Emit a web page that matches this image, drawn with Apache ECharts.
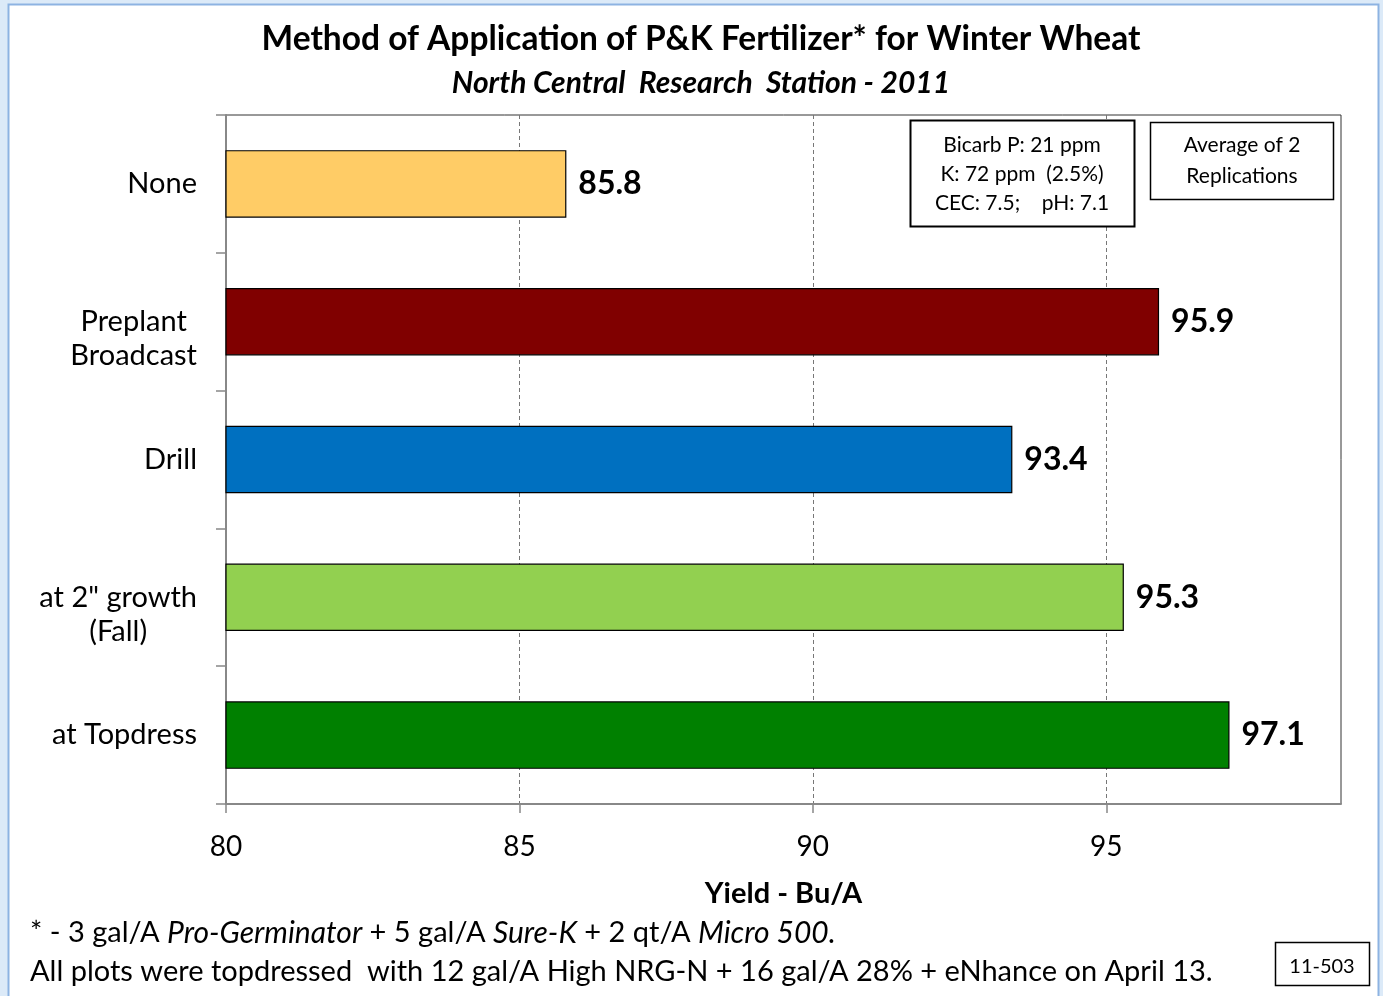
<!DOCTYPE html>
<html><head><meta charset="utf-8">
<script src="https://cdn.jsdelivr.net/npm/echarts@6/dist/echarts.min.js"></script>
<style>html,body{margin:0;padding:0;background:#dceaf8;}#c{width:1383px;height:996px;}</style>
</head><body><div id="c"></div>
<script>
const categories = ['None', 'Preplant\nBroadcast', 'Drill', 'at 2" growth\n(Fall)', 'at Topdress'];
const yields = [85.8, 95.9, 93.4, 95.3, 97.1];
const barColors = ['#FFCC66', '#800000', '#0070C0', '#92D050', '#008000'];
const xTicks = [80, 85, 90, 95];
const FONT = 'Lato, "Open Sans", sans-serif';

const chart = echarts.init(document.getElementById('c'), null, {renderer: 'canvas'});
chart.setOption({
  animation: false,
  backgroundColor: 'transparent',
  title: [{
    text: 'Method of Application of P&K Fertilizer* for Winter Wheat',
    left: 696, top: 17, textAlign: 'center',
    textStyle: {fontFamily: FONT, fontSize: 33.5, fontWeight: 'bold', color: '#000'}
  }, {
    text: 'North Central  Research  Station - 2011',
    left: 696, top: 63, textAlign: 'center',
    textStyle: {fontFamily: FONT, fontSize: 30, fontWeight: 'bold', fontStyle: 'italic', color: '#000'}
  }],
  grid: {left: 226, top: 115, width: 1115, height: 689, show: true, borderColor: '#333', borderWidth: 1, backgroundColor: 'transparent'},
  xAxis: {
    type: 'value', min: 80, max: 99, interval: 5,
    name: 'Yield - Bu/A', nameLocation: 'middle', nameGap: 75,
    nameTextStyle: {fontFamily: FONT, fontSize: 29, fontWeight: 'bold', color: '#000'},
    axisLine: {show: true, lineStyle: {color: '#888', width: 2}},
    axisTick: {show: true, length: 9, lineStyle: {color: '#888', width: 1.5},
      customValues: xTicks},
    axisLabel: {fontFamily: FONT, fontSize: 28, color: '#000', margin: 29,
      customValues: xTicks},
    splitLine: {show: true, lineStyle: {color: '#777', type: [4, 3], width: 1}}
  },
  yAxis: {
    type: 'category', data: categories, inverse: true,
    axisLine: {show: true, lineStyle: {color: '#888', width: 2}},
    axisTick: {show: true, length: 10, lineStyle: {color: '#888', width: 1.5}},
    axisLabel: {
      margin: 29, color: '#000',
      formatter: v => {
        const lines = v.split('\n');
        const body = lines.map(s => '{c|' + s + '}').join('\n');
        return lines.length > 1 ? '{c| }\n' + body : body;
      },
      rich: {c: {fontFamily: FONT, fontSize: 29, lineHeight: 34, align: 'center', color: '#000'}}
    },
    splitLine: {show: false}
  },
  series: [{
    type: 'bar',
    data: yields.map((v, i) => ({value: v, itemStyle: {color: barColors[i]}})),
    barWidth: '49%',
    itemStyle: {borderColor: '#000', borderWidth: 1.2},
    label: {show: true, position: 'right', distance: 12,
      formatter: p => p.value.toFixed(1),
      fontFamily: FONT, fontSize: 32, fontWeight: 'bold', color: '#000'}
  }],
  graphic: [
    {type: 'rect', z: -10, silent: true, shape: {x: 8.5, y: 4.5, width: 1370, height: 1000},
      style: {fill: '#fff', stroke: '#8db3e2', lineWidth: 2}},
    {type: 'rect', z: 10, shape: {x: 910.5, y: 120.5, width: 224, height: 106},
      style: {fill: '#fff', stroke: '#000', lineWidth: 2}},
    {type: 'text', z: 11,
      style: {x: 1022, y: 174, text: 'Bicarb P: 21 ppm\nK: 72 ppm  (2.5%)\nCEC: 7.5;    pH: 7.1',
        fontFamily: FONT, fontSize: 21, lineHeight: 29, align: 'center', verticalAlign: 'middle', fill: '#000'}},
    {type: 'rect', z: 10, shape: {x: 1150.5, y: 122.5, width: 183, height: 77},
      style: {fill: '#fff', stroke: '#000', lineWidth: 1.5}},
    {type: 'text', z: 11,
      style: {x: 1242, y: 161, text: 'Average of 2\nReplications',
        fontFamily: FONT, fontSize: 21, lineHeight: 31, align: 'center', verticalAlign: 'middle', fill: '#000'}},
    {type: 'text', z: 11,
      style: {x: 30, y: 933, text: '* - 3 gal/A {i|Pro-Germinator} + 5 gal/A {i|Sure-K} + 2 qt/A {i|Micro 500.}',
        fontFamily: FONT, fontSize: 29, verticalAlign: 'middle', fill: '#000',
        rich: {i: {fontFamily: FONT, fontSize: 30, fontStyle: 'italic', fill: '#000'}}}},
    {type: 'text', z: 11,
      style: {x: 30, y: 972, text: 'All plots were topdressed  with 12 gal/A High NRG-N + 16 gal/A 28% + eNhance on April 13.',
        fontFamily: FONT, fontSize: 29, verticalAlign: 'middle', fill: '#000'}},
    {type: 'rect', z: 10, shape: {x: 1275.5, y: 942.5, width: 94, height: 43},
      style: {fill: '#fff', stroke: '#000', lineWidth: 1.5}},
    {type: 'text', z: 11,
      style: {x: 1322, y: 967, text: '11-503', fontFamily: FONT, fontSize: 20, align: 'center', verticalAlign: 'middle', fill: '#000'}}
  ]
});
</script></body></html>
